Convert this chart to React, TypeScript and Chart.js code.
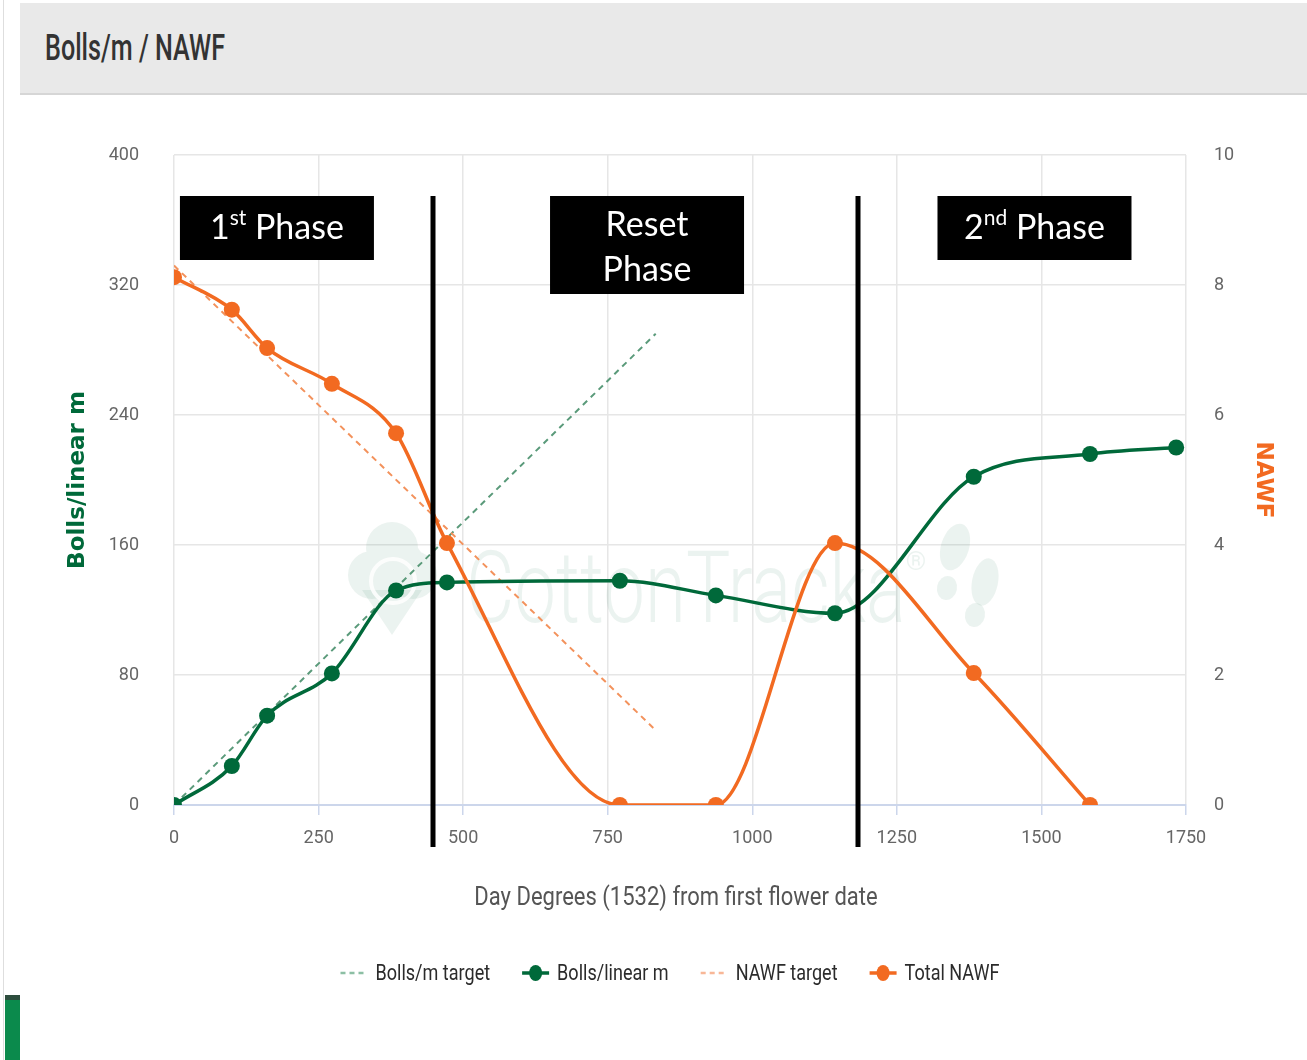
import React, { useEffect, useRef } from "react";
import { Chart, registerables } from "chart.js";

Chart.register(...registerables);

// ---- data -------------------------------------------------------------
const dayDegrees = [0, 100, 161, 273, 384, 472, 771, 937, 1143, 1383, 1584, 1733];
const bollsPerMetre = [0, 24, 55, 81, 132, 137, 138, 129, 118, 202, 216, 220];
const totalNawf = [8.12, 7.62, 7.03, 6.48, 5.72, 4.03, 0, 0, 4.03, 2.03, 0, null];

const bollsTargetX = [0, 833];
const bollsTargetY = [0, 290];
const nawfTargetX = [0, 833];
const nawfTargetY = [8.3, 1.15];

const xTicks = [0, 250, 500, 750, 1000, 1250, 1500, 1750];
const leftTicks = [0, 80, 160, 240, 320, 400];
const rightTicks = [0, 2, 4, 6, 8, 10];

const xAxisTitle = "Day Degrees (1532) from first flower date";

// phase boundaries (day degrees) and the labelled phase boxes
const phaseBoundaries = [448, 1183];
const phaseBoxes = [
  { centre: 178, lines: [[{ t: "1" }, { t: "st", sup: true }, { t: " Phase" }]] },
  { centre: 818, lines: [[{ t: "Reset" }], [{ t: "Phase" }]] },
  { centre: 1488, lines: [[{ t: "2" }, { t: "nd", sup: true }, { t: " Phase" }]] },
];

// ---- styles -----------------------------------------------------------
const GREEN = "#00693a";
const ORANGE = "#f26a21";
const GREEN_TARGET = "#5a9a7a";
const ORANGE_TARGET = "#f3925c";
const SANS = "Roboto, 'Liberation Sans', sans-serif";
const TICK_FONT = { family: SANS, size: 18 };

// draws text squeezed horizontally so it reads as a condensed face
function condensedText(
  ctx: CanvasRenderingContext2D,
  text: string,
  x: number,
  y: number,
  squeeze: number,
  align: "left" | "center"
) {
  const w = ctx.measureText(text).width * squeeze;
  ctx.save();
  ctx.translate(align === "center" ? x - w / 2 : x, y);
  ctx.scale(squeeze, 1);
  ctx.textAlign = "left";
  ctx.fillText(text, 0, 0);
  ctx.restore();
  return w;
}

const watermarkPlugin = {
  id: "watermark",
  beforeDatasetsDraw(chart: any) {
    const { ctx, chartArea } = chart;
    const tint = "rgba(0, 105, 58, 0.08)";
    const cx = (chartArea.left + chartArea.right) / 2;
    const top = chartArea.top;

    // brand word
    ctx.save();
    ctx.fillStyle = tint;
    ctx.font = "300 100px Roboto, sans-serif";
    const word = "CottonTracka";
    const w = ctx.measureText(word).width;
    ctx.translate(cx - 214, top + 467);
    ctx.scale(440 / w, 1);
    ctx.textBaseline = "alphabetic";
    ctx.fillText(word, 0, 0);
    ctx.restore();

    ctx.save();
    ctx.fillStyle = tint;
    ctx.strokeStyle = tint;
    ctx.font = "26px Roboto, sans-serif";
    ctx.textAlign = "center";
    ctx.textBaseline = "middle";
    ctx.fillText("®", cx + 236, top + 408);

    // boll-shaped pin logo
    const lx = cx - 288;
    const ly = top + 420;
    ctx.beginPath();
    ctx.arc(lx - 20, ly, 24, 0, Math.PI * 2);
    ctx.arc(lx, ly - 27, 26, 0, Math.PI * 2);
    ctx.arc(lx + 21, ly, 24, 0, Math.PI * 2);
    ctx.fill();
    ctx.beginPath();
    ctx.moveTo(lx - 30, ly + 15);
    ctx.lineTo(lx, ly + 60);
    ctx.lineTo(lx + 30, ly + 15);
    ctx.closePath();
    ctx.fill();
    ctx.strokeStyle = "rgba(255,255,255,0.85)";
    ctx.lineWidth = 4;
    ctx.beginPath();
    ctx.arc(lx + 1, ly + 6, 22, 0, Math.PI * 2);
    ctx.stroke();

    // footprints
    ctx.fillStyle = tint;
    const prints = [
      [cx + 275, top + 392, 14, 24, 0.3],
      [cx + 267, top + 433, 10, 12, 0.2],
      [cx + 305, top + 427, 13, 24, 0.2],
      [cx + 295, top + 460, 10, 12, 0.2],
    ];
    prints.forEach(([x, y, rx, ry, rot]) => {
      ctx.beginPath();
      ctx.ellipse(x, y, rx, ry, rot, 0, Math.PI * 2);
      ctx.fill();
    });
    ctx.restore();
  },
};

const phasePlugin = {
  id: "phases",
  afterDatasetsDraw(chart: any) {
    const { ctx, chartArea, scales } = chart;
    const xs = scales.x;
    const top = chartArea.top + 41;
    ctx.save();
    ctx.strokeStyle = "#000";
    ctx.lineWidth = 5;
    phaseBoundaries.forEach((v) => {
      const px = Math.round(xs.getPixelForValue(v));
      ctx.beginPath();
      ctx.moveTo(px, top);
      ctx.lineTo(px, chartArea.bottom + 42);
      ctx.stroke();
    });

    const bigFont = "34px Lato, 'Open Sans', sans-serif";
    const supFont = "21px Lato, 'Open Sans', sans-serif";
    phaseBoxes.forEach((b) => {
      const cx = xs.getPixelForValue(b.centre);
      const h = b.lines.length === 1 ? 64 : 98;
      ctx.fillStyle = "#000";
      ctx.fillRect(cx - 97, top, 194, h);
      ctx.fillStyle = "#fff";
      ctx.textBaseline = "middle";
      ctx.textAlign = "left";
      b.lines.forEach((segs: any[], i: number) => {
        const cy = b.lines.length === 1 ? top + 32 : top + 29 + i * 45;
        let total = 0;
        segs.forEach((s) => {
          ctx.font = s.sup ? supFont : bigFont;
          total += ctx.measureText(s.t).width;
        });
        let x = cx - total / 2;
        segs.forEach((s) => {
          ctx.font = s.sup ? supFont : bigFont;
          ctx.fillText(s.t, x, s.sup ? cy - 10 : cy);
          x += ctx.measureText(s.t).width;
        });
      });
    });
    ctx.restore();
  },
};

const xTitlePlugin = {
  id: "xTitle",
  afterDraw(chart: any) {
    const { ctx, chartArea } = chart;
    ctx.save();
    ctx.font = `25px ${SANS}`;
    ctx.fillStyle = "#555";
    ctx.textBaseline = "middle";
    condensedText(ctx, xAxisTitle, (chartArea.left + chartArea.right) / 2 - 4, 899, 0.88, "center");
    ctx.restore();
  },
};

const legendPlugin = {
  id: "bottomLegend",
  afterDraw(chart: any) {
    const { ctx } = chart;
    const y = 973;
    const sym = 27;
    const gapText = 8;
    const gapItem = 32;
    const squeeze = 0.82;
    ctx.save();
    ctx.font = `22px ${SANS}`;
    const items = chart.data.datasets.map((d: any) => ({
      label: d.label,
      color: d.legendColor,
      dashed: !!d.borderDash,
      marker: d.pointRadius > 0,
      w: ctx.measureText(d.label).width * squeeze,
    }));
    const total =
      items.reduce((a: number, it: any) => a + sym + gapText + it.w, 0) +
      gapItem * (items.length - 1);
    let x = 670 - total / 2;
    items.forEach((it: any) => {
      ctx.strokeStyle = it.color;
      ctx.fillStyle = it.color;
      ctx.lineWidth = it.dashed ? 2.5 : 3.5;
      ctx.setLineDash(it.dashed ? [5, 4] : []);
      ctx.beginPath();
      ctx.moveTo(x, y);
      ctx.lineTo(x + sym, y);
      ctx.stroke();
      ctx.setLineDash([]);
      if (it.marker) {
        ctx.beginPath();
        ctx.ellipse(x + sym / 2, y, 6.5, 8, 0, 0, Math.PI * 2);
        ctx.fill();
      }
      ctx.fillStyle = "#2b2b2b";
      ctx.textBaseline = "middle";
      condensedText(ctx, it.label, x + sym + gapText, y + 1, squeeze, "left");
      x += sym + gapText + it.w + gapItem;
    });
    ctx.restore();
  },
};

export default function App() {
  const canvasRef = useRef<HTMLCanvasElement | null>(null);

  useEffect(() => {
    if (!canvasRef.current) return;
    const pts = (xs: number[], ys: (number | null)[]) =>
      xs.map((x, i) => ({ x, y: ys[i] }));

    const chart = new Chart(canvasRef.current, {
      type: "line",
      data: {
        datasets: [
          {
            label: "Bolls/m target",
            data: pts(bollsTargetX, bollsTargetY),
            yAxisID: "y",
            borderColor: GREEN_TARGET,
            legendColor: "#8cbfa4",
            borderWidth: 2,
            borderDash: [6, 5],
            pointRadius: 0,
            order: 3,
          } as any,
          {
            label: "Bolls/linear m",
            data: pts(dayDegrees, bollsPerMetre),
            yAxisID: "y",
            borderColor: GREEN,
            backgroundColor: GREEN,
            legendColor: GREEN,
            borderWidth: 3.5,
            pointRadius: 8,
            pointBorderWidth: 0,
            pointBackgroundColor: GREEN,
            cubicInterpolationMode: "monotone",
            order: 1,
          } as any,
          {
            label: "NAWF target",
            data: pts(nawfTargetX, nawfTargetY),
            yAxisID: "y1",
            borderColor: ORANGE_TARGET,
            legendColor: "#f8b797",
            borderWidth: 2,
            borderDash: [6, 5],
            pointRadius: 0,
            order: 2,
          } as any,
          {
            label: "Total NAWF",
            data: pts(dayDegrees, totalNawf),
            yAxisID: "y1",
            borderColor: ORANGE,
            backgroundColor: ORANGE,
            legendColor: ORANGE,
            borderWidth: 3.5,
            pointRadius: 8,
            pointBorderWidth: 0,
            pointBackgroundColor: ORANGE,
            cubicInterpolationMode: "monotone",
            order: 0,
          } as any,
        ],
      },
      options: {
        animation: false,
        responsive: false,
        maintainAspectRatio: false,
        layout: { padding: { left: 60, right: 26, top: 155, bottom: 143 } },
        plugins: {
          legend: { display: false },
          tooltip: { enabled: false },
        },
        scales: {
          x: {
            type: "linear",
            min: 0,
            max: 1750,
            afterBuildTicks: (s: any) => {
              s.ticks = xTicks.map((v) => ({ value: v }));
            },
            afterFit: (s: any) => {
              s.height = 112;
            },
            ticks: {
              color: "#666",
              font: TICK_FONT,
              padding: 13,
              maxRotation: 0,
              callback: (v: any) => String(v),
            },
            grid: { color: "#e6e6e6", tickColor: "#ccd6eb", tickLength: 10, lineWidth: 1.5 },
            border: { display: true, color: "#ccd6eb", width: 2 },
            title: { display: false },
          },
          y: {
            type: "linear",
            position: "left",
            min: 0,
            max: 400,
            afterBuildTicks: (s: any) => {
              s.ticks = leftTicks.map((v) => ({ value: v }));
            },
            afterFit: (s: any) => {
              s.width = 114;
            },
            ticks: { color: "#666", font: TICK_FONT, padding: 35 },
            grid: { color: "#e6e6e6", drawTicks: false, lineWidth: 1.5 },
            border: { display: false },
            title: {
              display: true,
              text: "Bolls/linear m",
              color: GREEN,
              font: { family: "'DejaVu Sans', sans-serif", size: 23, weight: "bold" },
              padding: { top: 4, bottom: 4 },
            },
          },
          y1: {
            type: "linear",
            position: "right",
            min: 0,
            max: 10,
            afterBuildTicks: (s: any) => {
              s.ticks = rightTicks.map((v) => ({ value: v }));
            },
            afterFit: (s: any) => {
              s.width = 95;
            },
            ticks: { color: "#666", font: TICK_FONT, padding: 28 },
            grid: { display: false, drawTicks: false },
            border: { display: false },
            title: {
              display: true,
              text: "NAWF",
              color: ORANGE,
              font: { family: "'DejaVu Sans', sans-serif", size: 23, weight: "bold" },
              padding: { top: 4, bottom: 4 },
            },
          },
        },
      } as any,
      plugins: [watermarkPlugin, phasePlugin, xTitlePlugin, legendPlugin],
    });
    return () => chart.destroy();
  }, []);

  return (
    <div
      style={{
        position: "fixed",
        left: 0,
        top: 0,
        width: 1307,
        height: 1060,
        background: "#fff",
        overflow: "hidden",
      }}
    >
      <div
        style={{
          position: "absolute",
          left: 3,
          top: 0,
          width: 1,
          height: 1060,
          background: "#dedede",
        }}
      />
      <div
        style={{
          position: "absolute",
          left: 20,
          top: 3,
          width: 1287,
          height: 90,
          background: "#e9e9e9",
          borderBottom: "2px solid #d6d6d6",
        }}
      >
        <span
          style={{
            position: "absolute",
            left: 25,
            top: 22,
            fontFamily: SANS,
            fontSize: 37,
            fontWeight: 500,
            color: "#333",
            lineHeight: "46px",
            whiteSpace: "nowrap",
            transform: "scaleX(0.68)",
            transformOrigin: "left center",
          }}
        >
          Bolls/m / NAWF
        </span>
      </div>
      <div
        style={{
          position: "absolute",
          left: 5,
          top: 995,
          width: 15,
          height: 65,
          background: "#0b8a4c",
          borderTop: "5px solid #2d4d3d",
        }}
      />
      <canvas
        ref={canvasRef}
        width={1307}
        height={1060}
        style={{ position: "absolute", left: 0, top: 0, width: 1307, height: 1060 }}
      />
    </div>
  );
}
